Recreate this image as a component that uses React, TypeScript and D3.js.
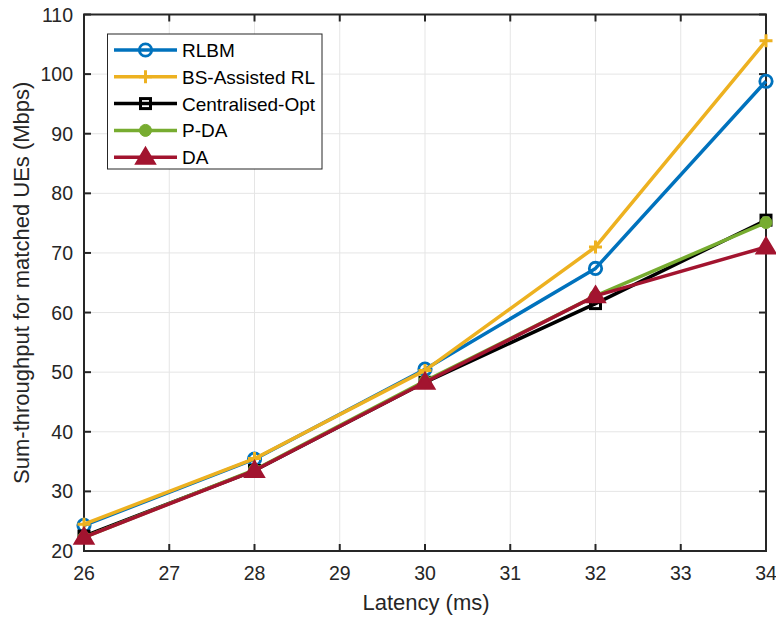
import React from "react";
import * as d3 from "d3";

const latency = [26, 28, 30, 32, 34];
const rlbm = [24.3, 35.4, 50.5, 67.4, 98.8];
const bsAssisted = [24.5, 35.5, 50.3, 71.0, 105.6];
const centralised = [22.5, 33.5, 48.3, 61.5, 75.5];
const pda = [22.3, 33.6, 48.5, 62.8, 75.1];
const da = [22.3, 33.5, 48.3, 62.8, 71.0];
const xTicks = [26, 27, 28, 29, 30, 31, 32, 33, 34];
const yTicks = [20, 30, 40, 50, 60, 70, 80, 90, 100, 110];

const seriesNames = ["RLBM", "BS-Assisted RL", "Centralised-Opt", "P-DA", "DA"];
const seriesData = [rlbm, bsAssisted, centralised, pda, da];
const colors = ["#0072BD", "#EDB120", "#000000", "#77AC30", "#A2142F"];
const markers = ["circle", "plus", "square", "dot", "triangle"];

const L = 84, R = 766, T = 14.5, B = 551;

function Marker({ type, x, y, color }: { type: string; x: number; y: number; color: string }) {
  if (type === "circle")
    return <circle cx={x} cy={y} r={6.2} fill="none" stroke={color} strokeWidth={2.8} />;
  if (type === "plus")
    return (
      <path d={`M${x - 6.5},${y}H${x + 6.5}M${x},${y - 6.5}V${y + 6.5}`} stroke={color} strokeWidth={3} />
    );
  if (type === "square")
    return <rect x={x - 5} y={y - 5} width={10} height={10} fill="none" stroke={color} strokeWidth={3} />;
  if (type === "dot") return <circle cx={x} cy={y} r={6} fill={color} stroke={color} strokeWidth={1} />;
  return (
    <path
      d={`M${x},${y - 9.5}L${x + 9.5},${y + 6.5}L${x - 9.5},${y + 6.5}Z`}
      fill={color}
      stroke={color}
      strokeWidth={2}
      strokeLinejoin="miter"
    />
  );
}

export default function App() {
  const x = d3.scaleLinear().domain([26, 34]).range([L, R]);
  const y = d3.scaleLinear().domain([20, 110]).range([B, T]);
  const line = d3
    .line<number>()
    .x((_, i) => x(latency[i]))
    .y((d) => y(d));
  const font = "'Liberation Sans', Arial, sans-serif";
  const tickColor = "#262626";
  return (
    <svg width={776} height={618} style={{ position: "absolute", left: 0, top: 0 }} fontFamily={font}>
      <rect width={776} height={618} fill="#fff" />
      {xTicks.map((t) => (
        <line key={"gx" + t} x1={x(t)} x2={x(t)} y1={T} y2={B} stroke="#e5e5e5" strokeWidth={1} />
      ))}
      {yTicks.map((t) => (
        <line key={"gy" + t} x1={L} x2={R} y1={y(t)} y2={y(t)} stroke="#e5e5e5" strokeWidth={1} />
      ))}
      <rect x={L} y={T} width={R - L} height={B - T} fill="none" stroke={tickColor} strokeWidth={2} />
      {xTicks.map((t) => (
        <g key={"tx" + t}>
          <line x1={x(t)} x2={x(t)} y1={B} y2={B - 7} stroke={tickColor} strokeWidth={2} />
          <line x1={x(t)} x2={x(t)} y1={T} y2={T + 7} stroke={tickColor} strokeWidth={2} />
          <text x={x(t)} y={580} textAnchor="middle" fontSize={19.5} fill={tickColor}>
            {t}
          </text>
        </g>
      ))}
      {yTicks.map((t) => (
        <g key={"ty" + t}>
          <line x1={L} x2={L + 7} y1={y(t)} y2={y(t)} stroke={tickColor} strokeWidth={2} />
          <line x1={R} x2={R - 7} y1={y(t)} y2={y(t)} stroke={tickColor} strokeWidth={2} />
          <text x={73} y={y(t) + 7} textAnchor="end" fontSize={19.5} fill={tickColor}>
            {t}
          </text>
        </g>
      ))}
      <text x={(L + R) / 2 + 1} y={610} textAnchor="middle" fontSize={22} fill={tickColor}>
        Latency (ms)
      </text>
      <text
        transform={`translate(29,${(T + B) / 2}) rotate(-90)`}
        textAnchor="middle"
        fontSize={22}
        fill={tickColor}
      >
        Sum-throughput for matched UEs (Mbps)
      </text>
      {seriesData.map((s, i) => (
        <g key={"s" + i}>
          <path d={line(s) || ""} fill="none" stroke={colors[i]} strokeWidth={3.5} strokeLinejoin="round" />
          {s.map((v, j) => (
            <Marker key={j} type={markers[i]} x={x(latency[j])} y={y(v)} color={colors[i]} />
          ))}
        </g>
      ))}
      <g>
        <rect x={107.5} y={34} width={214.5} height={135} fill="#fff" stroke={tickColor} strokeWidth={1} />
        {seriesNames.map((n, i) => {
          const yy = 50 + i * 26.8;
          return (
            <g key={"lg" + i}>
              <line x1={114} x2={177} y1={yy} y2={yy} stroke={colors[i]} strokeWidth={3.5} />
              <Marker type={markers[i]} x={145.5} y={yy} color={colors[i]} />
              <text x={182} y={yy + 7} fontSize={19} fill="#000">
                {n}
              </text>
            </g>
          );
        })}
      </g>
    </svg>
  );
}
